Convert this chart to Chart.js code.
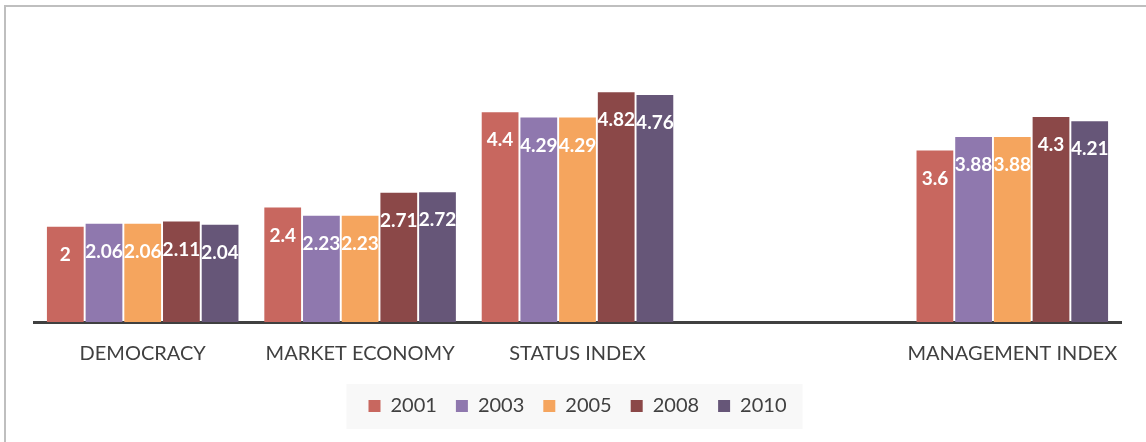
<!DOCTYPE html>
<html lang="en">
<head>
  <meta charset="UTF-8" />
  <title>BTI scores 2001-2010</title>
  <script src="https://cdn.jsdelivr.net/npm/chart.js"></script>
  <style>
    html, body {
      margin: 0;
      padding: 0;
      background: #ffffff;
      overflow: hidden;
    }
    #frame {
      position: absolute;
      left: 4px;
      top: 5px;
      width: 1200px;
      height: 500px;
      border: 2px solid #bfbfbf;
    }
    #chart {
      position: absolute;
      left: 0;
      top: 0;
    }
  </style>
</head>
<body>
  <div id="frame"></div>
  <canvas id="chart" width="1146" height="442"></canvas>

  <script>
    // categories (the fourth slot is left empty on purpose)
    const categories = ['DEMOCRACY', 'MARKET ECONOMY', 'STATUS INDEX', '', 'MANAGEMENT INDEX'];

    // scores per survey year
    const years = ['2001', '2003', '2005', '2008', '2010'];
    const values2001 = [2, 2.4, 4.4, null, 3.6];
    const values2003 = [2.06, 2.23, 4.29, null, 3.88];
    const values2005 = [2.06, 2.23, 4.29, null, 3.88];
    const values2008 = [2.11, 2.71, 4.82, null, 4.3];
    const values2010 = [2.04, 2.72, 4.76, null, 4.21];

    const colors = ['#c8675f', '#8f78ae', '#f5a55e', '#8b4848', '#665678'];
    const series = [values2001, values2003, values2005, values2008, values2010];

    // white value labels inside the top of each bar
    const barLabels = {
      id: 'barLabels',
      afterDatasetsDraw(chart) {
        const ctx = chart.ctx;
        ctx.save();
        ctx.font = 'bold 19px Lato';
        ctx.fillStyle = '#ffffff';
        ctx.textAlign = 'center';
        ctx.textBaseline = 'middle';
        chart.data.datasets.forEach((ds, i) => {
          const meta = chart.getDatasetMeta(i);
          meta.data.forEach((bar, j) => {
            const v = ds.data[j];
            if (v === null || v === undefined) return;
            ctx.fillText(String(v), bar.x, bar.y + 28);
          });
        });
        ctx.restore();
      }
    };

    // faint grey panel behind the legend
    const legendPanel = {
      id: 'legendPanel',
      beforeDraw(chart) {
        const boxes = chart.legend && chart.legend.legendHitBoxes;
        if (!boxes || !boxes.length) return;
        const first = boxes[0];
        const last = boxes[boxes.length - 1];
        const cy = first.top + first.height / 2;
        const ctx = chart.ctx;
        ctx.save();
        ctx.fillStyle = '#f8f8f8';
        ctx.fillRect(first.left - 22, cy - 22, last.left + last.width - first.left + 38, 45);
        ctx.restore();
      }
    };

    const ctx = document.getElementById('chart').getContext('2d');
    const chart = new Chart(ctx, {
      type: 'bar',
      data: {
        labels: categories,
        datasets: series.map((data, i) => ({
          label: years[i],
          data: data,
          backgroundColor: colors[i],
          categoryPercentage: 0.89,
          barPercentage: 0.95
        }))
      },
      options: {
        responsive: false,
        animation: false,
        layout: {
          padding: { left: 34, right: 25, top: 36, bottom: 16 }
        },
        plugins: {
          legend: {
            position: 'bottom',
            labels: {
              boxWidth: 12,
              boxHeight: 12,
              padding: 19,
              color: '#404040',
              font: { family: 'Lato', size: 20 }
            }
          },
          tooltip: { enabled: false }
        },
        scales: {
          x: {
            z: 1,
            grid: { display: false },
            border: { display: true, color: '#404040', width: 3 },
            ticks: {
              color: '#404040',
              padding: 12,
              font: { family: 'Lato', size: 20 }
            },
            afterFit(scale) {
              scale.height = 55;
            }
          },
          y: {
            display: false,
            min: 0,
            max: 6
          }
        }
      },
      plugins: [legendPanel, barLabels]
    });
  </script>
</body>
</html>
